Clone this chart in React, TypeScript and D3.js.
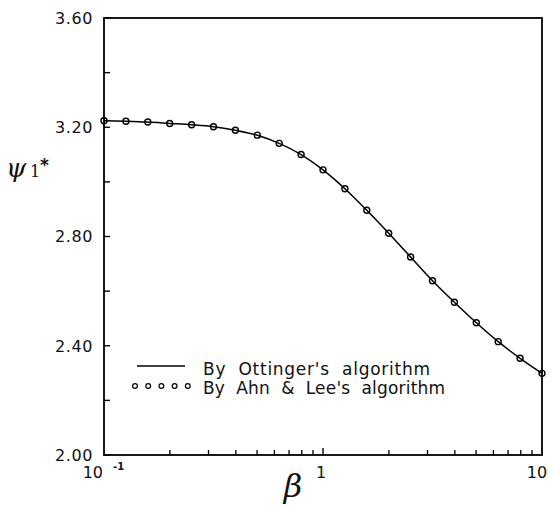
import React from "react";
import * as d3 from "d3";

// β sampled at 10^(-1 + 0.1k), k = 0..20
const betaValues: number[] = [
  0.1, 0.1259, 0.1585, 0.1995, 0.2512, 0.3162, 0.3981, 0.5012, 0.631, 0.7943,
  1, 1.2589, 1.5849, 1.9953, 2.5119, 3.1623, 3.9811, 5.0119, 6.3096, 7.9433, 10,
];
// ψ1* from Öttinger's algorithm (solid curve)
const ottingerValues: number[] = [
  3.224, 3.222, 3.219, 3.214, 3.209, 3.202, 3.189, 3.171, 3.141, 3.1, 3.044,
  2.975, 2.896, 2.812, 2.725, 2.638, 2.559, 2.484, 2.415, 2.354, 2.299,
];
// ψ1* from Ahn & Lee's algorithm (open circles)
const ahnLeeValues: number[] = [
  3.224, 3.222, 3.219, 3.214, 3.209, 3.202, 3.189, 3.171, 3.141, 3.1, 3.044,
  2.975, 2.896, 2.812, 2.725, 2.638, 2.559, 2.484, 2.415, 2.354, 2.299,
];
const yTickValues: number[] = [2.0, 2.2, 2.4, 2.6, 2.8, 3.0, 3.2, 3.4, 3.6];
const yLabelValues: number[] = [2.0, 2.4, 2.8, 3.2, 3.6];
const legendLabels: string[] = ["By  Ottinger's  algorithm", "By  Ahn  &  Lee's  algorithm"];

const W = 551;
const H = 508;
const left = 104;
const right = 542;
const top = 18;
const bottom = 455;

const sansFont = "'DejaVu Sans', Verdana, sans-serif";
const serifFont = "'DejaVu Serif', 'Liberation Serif', serif";

export default function App() {
  const x = d3.scaleLog().domain([0.1, 10]).range([left, right]);
  const y = d3.scaleLinear().domain([2.0, 3.6]).range([bottom, top]);

  const minorTicks: number[] = [];
  for (const dec of [0.1, 1]) {
    for (let m = 2; m <= 9; m++) minorTicks.push(dec * m);
  }

  const line = d3
    .line<number>()
    .x((_, i) => x(betaValues[i]))
    .y((d) => y(d))
    .curve(d3.curveMonotoneX);

  const legendDots = d3.range(5).map((i) => 135 + i * 13.2);

  return (
    <div style={{ position: "absolute", left: 0, top: 0 }}>
      <svg width={W} height={H} viewBox={`0 0 ${W} ${H}`}>
        <rect x={0} y={0} width={W} height={H} fill="#fff" />

        {/* frame */}
        <rect
          x={left}
          y={top}
          width={right - left}
          height={bottom - top}
          fill="none"
          stroke="#000"
          strokeWidth={1.8}
        />

        {/* y ticks (inward) */}
        {yTickValues.map((v) => (
          <line
            key={"yt" + v}
            x1={left}
            x2={left + 6}
            y1={y(v)}
            y2={y(v)}
            stroke="#000"
            strokeWidth={1.4}
          />
        ))}
        {yLabelValues.map((v) => (
          <text
            key={"yl" + v}
            x={93}
            y={y(v)}
            dy="0.36em"
            textAnchor="end"
            fontFamily={sansFont}
            fontSize={16}
            letterSpacing={0.6}
            fill="#111"
          >
            {v.toFixed(2)}
          </text>
        ))}

        {/* x ticks (inward) */}
        {minorTicks.map((v) => (
          <line
            key={"xm" + v}
            x1={x(v)}
            x2={x(v)}
            y1={bottom}
            y2={bottom - 5}
            stroke="#000"
            strokeWidth={1.3}
          />
        ))}
        <line x1={x(1)} x2={x(1)} y1={bottom} y2={bottom - 7} stroke="#000" strokeWidth={1.4} />

        {/* x labels */}
        <text x={x(0.1) - 1} y={478} textAnchor="end" fontFamily={sansFont} fontSize={16} fill="#111">
          10
        </text>
        <text x={113} y={470} fontFamily={sansFont} fontSize={10} fontWeight="bold" fill="#111">
          -1
        </text>
        <text x={x(1) - 2} y={478} textAnchor="middle" fontFamily={sansFont} fontSize={16} fill="#111">
          1
        </text>
        <text x={x(10) - 5} y={478} textAnchor="middle" fontFamily={sansFont} fontSize={16} fill="#111">
          10
        </text>

        {/* axis titles */}
        <text
          x={293}
          y={497}
          textAnchor="middle"
          fontFamily={serifFont}
          fontStyle="italic"
          fontSize={32}
          fill="#111"
        >
          β
        </text>
        <text x={6} y={177} fontFamily={serifFont} fontStyle="italic" fontSize={26} fill="#111">
          ψ
        </text>
        <text x={30} y={177} fontFamily={serifFont} fontSize={16} fill="#111">
          1
        </text>
        <text x={40} y={171} fontFamily={sansFont} fontSize={17} fontWeight="bold" fill="#111">
          *
        </text>

        {/* Öttinger curve */}
        <path d={line(ottingerValues) ?? ""} fill="none" stroke="#000" strokeWidth={1.5} />

        {/* Ahn & Lee points */}
        {ahnLeeValues.map((v, i) => (
          <circle
            key={"p" + i}
            cx={x(betaValues[i])}
            cy={y(v)}
            r={3}
            fill="none"
            stroke="#000"
            strokeWidth={1.4}
          />
        ))}

        {/* legend */}
        <line x1={137} x2={185} y1={366} y2={366} stroke="#000" strokeWidth={1.3} />
        <text
          x={203}
          y={375}
          fontFamily={sansFont}
          fontSize={17}
          textLength={227}
          lengthAdjust="spacing"
          xmlSpace="preserve"
          fill="#111"
        >
          {legendLabels[0]}
        </text>
        {legendDots.map((cx, i) => (
          <circle key={"ld" + i} cx={cx} cy={386} r={2.4} fill="none" stroke="#000" strokeWidth={1.2} />
        ))}
        <text
          x={203}
          y={394}
          fontFamily={sansFont}
          fontSize={17}
          textLength={242}
          lengthAdjust="spacing"
          xmlSpace="preserve"
          fill="#111"
        >
          {legendLabels[1]}
        </text>
      </svg>
    </div>
  );
}
